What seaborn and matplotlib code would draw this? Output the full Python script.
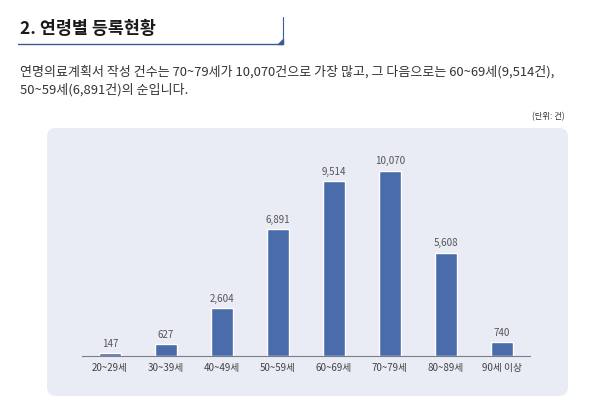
import matplotlib
matplotlib.use("Agg")
import matplotlib.pyplot as plt
import seaborn as sns
import pandas as pd
from matplotlib.patches import FancyBboxPatch, Polygon
from matplotlib.lines import Line2D

age_groups = ["20~29세", "30~39세", "40~49세", "50~59세",
              "60~69세", "70~79세", "80~89세", "90세 이상"]
counts = [147, 627, 2604, 6891, 9514, 10070, 5608, 740]

title = "2. 연령별 등록현황"
desc_1 = "연명의료계획서 작성 건수는 70~79세가 10,070건으로 가장 많고, 그 다음으로는 60~69세(9,514건),"
desc_2 = "50~59세(6,891건)의 순입니다."
unit = "(단위: 건)"

sns.set_theme(style="white")
plt.rcParams["font.family"] = ["Noto Sans CJK KR", "DejaVu Sans"]

W, H = 595, 411
fig = plt.figure(figsize=(W / 100, H / 100), dpi=100)


def fx(px):
    return px / W


def fy(py):
    return 1 - py / H


# header: title with underline and small corner mark
fig.text(fx(20), fy(29), title, fontsize=12.5, fontweight="bold",
         color="#1a1a1a", va="center", ha="left")
fig.add_artist(Line2D([fx(18), fx(283)], [fy(44), fy(44)],
                      color="#3c5a9a", lw=1.0))
fig.add_artist(Line2D([fx(283), fx(283)], [fy(17), fy(44)],
                      color="#3c5a9a", lw=0.8))
fig.add_artist(Polygon([[fx(278), fy(44)], [fx(283), fy(44)], [fx(283), fy(39)]],
                       closed=True, color="#3c5a9a", transform=fig.transFigure))

fig.text(fx(20), fy(72), desc_1, fontsize=9.35, color="#333333", va="center")
fig.text(fx(20), fy(90), desc_2, fontsize=9.35, color="#333333", va="center")
fig.text(fx(565), fy(117), unit, fontsize=6, color="#333333",
         va="center", ha="right")

# rounded background panel, kept behind the chart
panel = FancyBboxPatch((fx(47), fy(396)), fx(568) - fx(47), fy(128) - fy(396),
                       boxstyle=f"round,pad=0,rounding_size={9 / W}",
                       mutation_aspect=W / H,
                       transform=fig.transFigure, facecolor="#e9ebf5",
                       edgecolor="none", zorder=-5)
fig.add_artist(panel)

# chart
ax = fig.add_axes([fx(82), fy(356), fx(530) - fx(82), 202 / H])
ax.set_zorder(2)
ax.patch.set_alpha(0)
df = pd.DataFrame({"age": age_groups, "count": counts})
sns.barplot(data=df, x="age", y="count", color="#4b6caa", saturation=1,
            width=0.4, ax=ax)
ax.set_ylim(0, 11000)
ax.set_xlim(-0.5, len(age_groups) - 0.5)

for i, v in enumerate(counts):
    ax.text(i, v + 250, f"{v:,}", ha="center", va="bottom",
            fontsize=7, color="#555555")

ax.set_xlabel("")
ax.set_ylabel("")
ax.set_yticks([])
ax.tick_params(axis="x", length=0, pad=5, labelsize=7, labelcolor="#444444")
for side in ["top", "right", "left"]:
    ax.spines[side].set_visible(False)
ax.spines["bottom"].set_color("#7a7f8c")
ax.spines["bottom"].set_linewidth(0.8)

fig.savefig("out.png", dpi=100)
